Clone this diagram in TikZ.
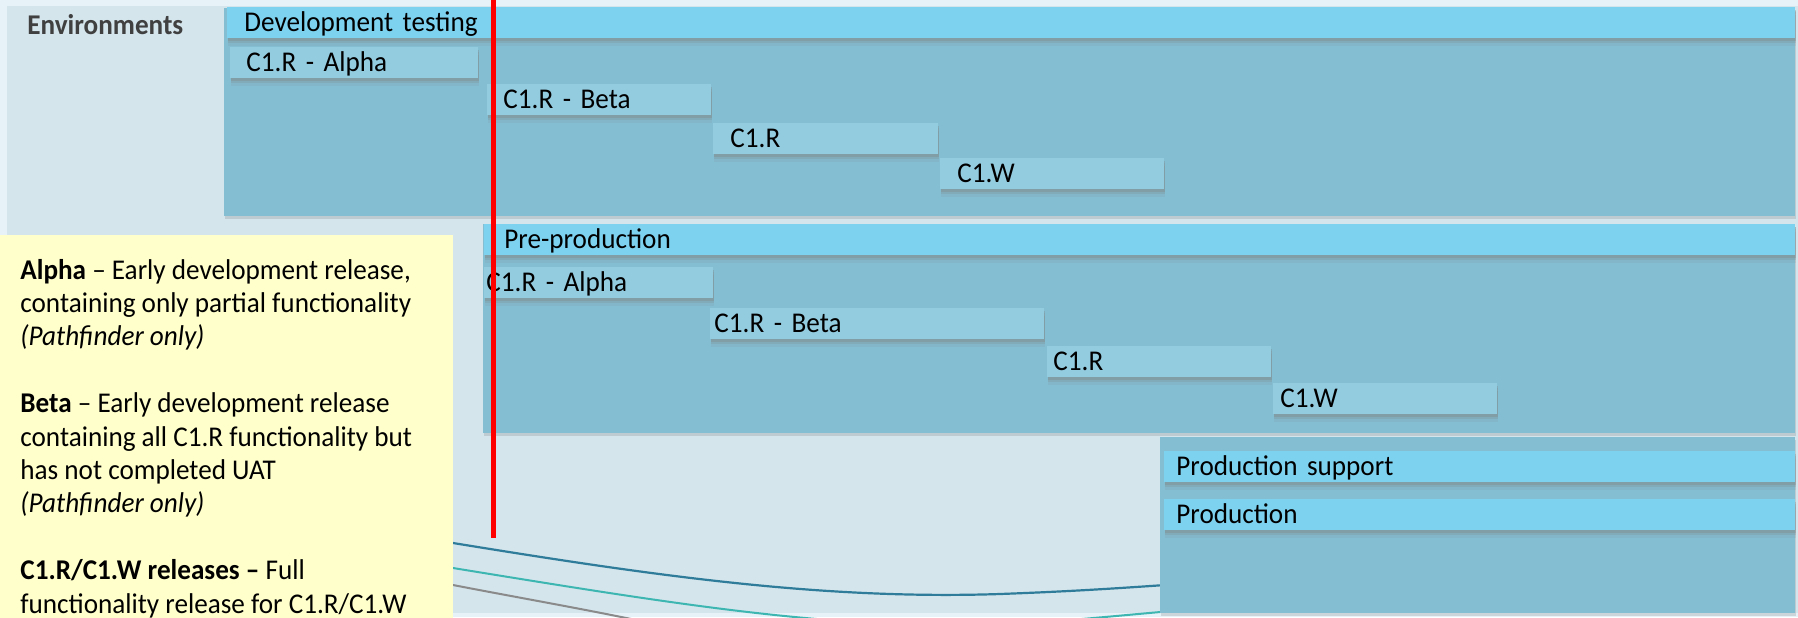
\documentclass[tikz,border=0pt]{standalone}
\usepackage{fontspec}
\setmainfont{Carlito}[FakeStretch=0.95]
\usetikzlibrary{shadows}

\definecolor{edgebg}{HTML}{E6F2F7}
\definecolor{pagebg}{HTML}{D4E5EC}
\definecolor{headblue}{HTML}{7DD2F0}
\definecolor{relblue}{HTML}{93CBDF}
\definecolor{panelblue}{HTML}{84BED2}
\definecolor{notefill}{HTML}{FFFFCC}
\definecolor{labelgray}{HTML}{404040}
\definecolor{curvedark}{HTML}{2F7C9A}
\definecolor{curveteal}{HTML}{3DB6B2}
\definecolor{curvegray}{HTML}{8A8A8A}

\tikzset{
	envpanel/.style={anchor=north west, fill=panelblue, inner sep=0pt,
		drop shadow={shadow xshift=0.5pt, shadow yshift=-1.5pt, opacity=0.25}},
	headbar/.style={anchor=north west, fill=headblue, inner xsep=#1, inner ysep=0pt,
		text height=12pt, text depth=3.5pt, align=left,
		drop shadow={shadow xshift=0.5pt, shadow yshift=-4pt, opacity=0.12},
		drop shadow={shadow xshift=0.5pt, shadow yshift=-2.5pt, opacity=0.2},
		drop shadow={shadow xshift=0.3pt, shadow yshift=-1.2pt, opacity=0.3}},
	relbar/.style={headbar=#1, fill=relblue},
}

\begin{document}
\begin{tikzpicture}[x=0.5pt, y=-0.5pt, font=\fontsize{14.3}{16.7}\selectfont]
	\useasboundingbox (0,0) rectangle (1798,617);
	\fill[edgebg] (0,0) rectangle (1798,617);
	\fill[pagebg] (7,6) rectangle (1798,613);

	% curves in the background
	\begin{scope}
		\clip (0,0) rectangle (1798,617);
		\draw[curvedark, line width=1.1pt] (453,543) .. controls (650,575) and (820,600) .. (1000,594) .. controls (1080,591) and (1130,588) .. (1300,575);
		\draw[curveteal, line width=1pt] (453,568) .. controls (650,600) and (800,625) .. (950,625) .. controls (1050,625) and (1100,616) .. (1300,600);
		\draw[curvegray, line width=1pt] (453,585) .. controls (520,598) and (590,610) .. (660,625);
	\end{scope}

	\node[anchor=base west, font=\fontsize{14.3}{16.7}\selectfont\bfseries, text=labelgray, inner sep=0pt] (envtitle) at (27,34) {Environments};

	% development testing
	\node[envpanel, minimum width=785.5pt, minimum height=104pt] (devpanel) at (224,8) {};
	\node[headbar=8.5pt, text width=767pt] (devhead) at (227,7) {Development testing};
	\node[relbar=8pt, text width=108pt] (devalpha) at (230,47) {C1.R - Alpha};
	\node[relbar=8pt, text width=96pt] (devbeta) at (487,84) {C1.R - Beta};
	\node[relbar=8.5pt, text width=95.5pt] (devread) at (713,123) {C1.R};
	\node[relbar=8.5pt, text width=95pt] (devwrite) at (940,158) {C1.W};

	% pre-production
	\node[envpanel, minimum width=656pt, minimum height=104.5pt] (prepanel) at (483,224) {};
	\node[headbar=10pt, text width=635.5pt] (prehead) at (484,224) {Pre-production};
	\node[relbar=1pt, text width=112.5pt] (prealpha) at (484,267) {C1.R - Alpha};
	\node[relbar=2pt, text width=163pt] (prebeta) at (710,308) {C1.R - Beta};
	\node[relbar=3pt, text width=106pt] (preread) at (1047,346) {C1.R};
	\node[relbar=3.5pt, text width=105pt] (prewrite) at (1273,383) {C1.W};

	% production
	\node[envpanel, minimum width=317.5pt, minimum height=88pt] (prodpanel) at (1160,437) {};
	\node[headbar=6pt, text width=303.5pt] (prodsupport) at (1164,451) {Production support};
	\node[headbar=6pt, text width=303.5pt] (prodlive) at (1164,499) {Production};

	% notes
	\node[anchor=north west, fill=notefill, inner sep=0pt, minimum width=226.5pt, minimum height=193pt] (notebox) at (0,235) {};
	\node[anchor=base west, inner sep=0pt, align=left] (notes) at (20,613) {%
		\textbf{Alpha} – Early development release,\\
		containing only partial functionality\\
		\textit{(Pathfinder only)}\\[16.7pt]
		\textbf{Beta} – Early development release\\
		containing all C1.R functionality but\\
		has not completed UAT\\
		\textit{(Pathfinder only)}\\[16.7pt]
		\textbf{C1.R/C1.W releases –} Full\\
		functionality release for C1.R/C1.W};

	% today marker
	\coordinate (nowtop) at (493,0);
	\coordinate (nowbot) at (493,538);
	\draw[red, line width=2.5pt] (nowtop) -- (nowbot);
\end{tikzpicture}
\end{document}
